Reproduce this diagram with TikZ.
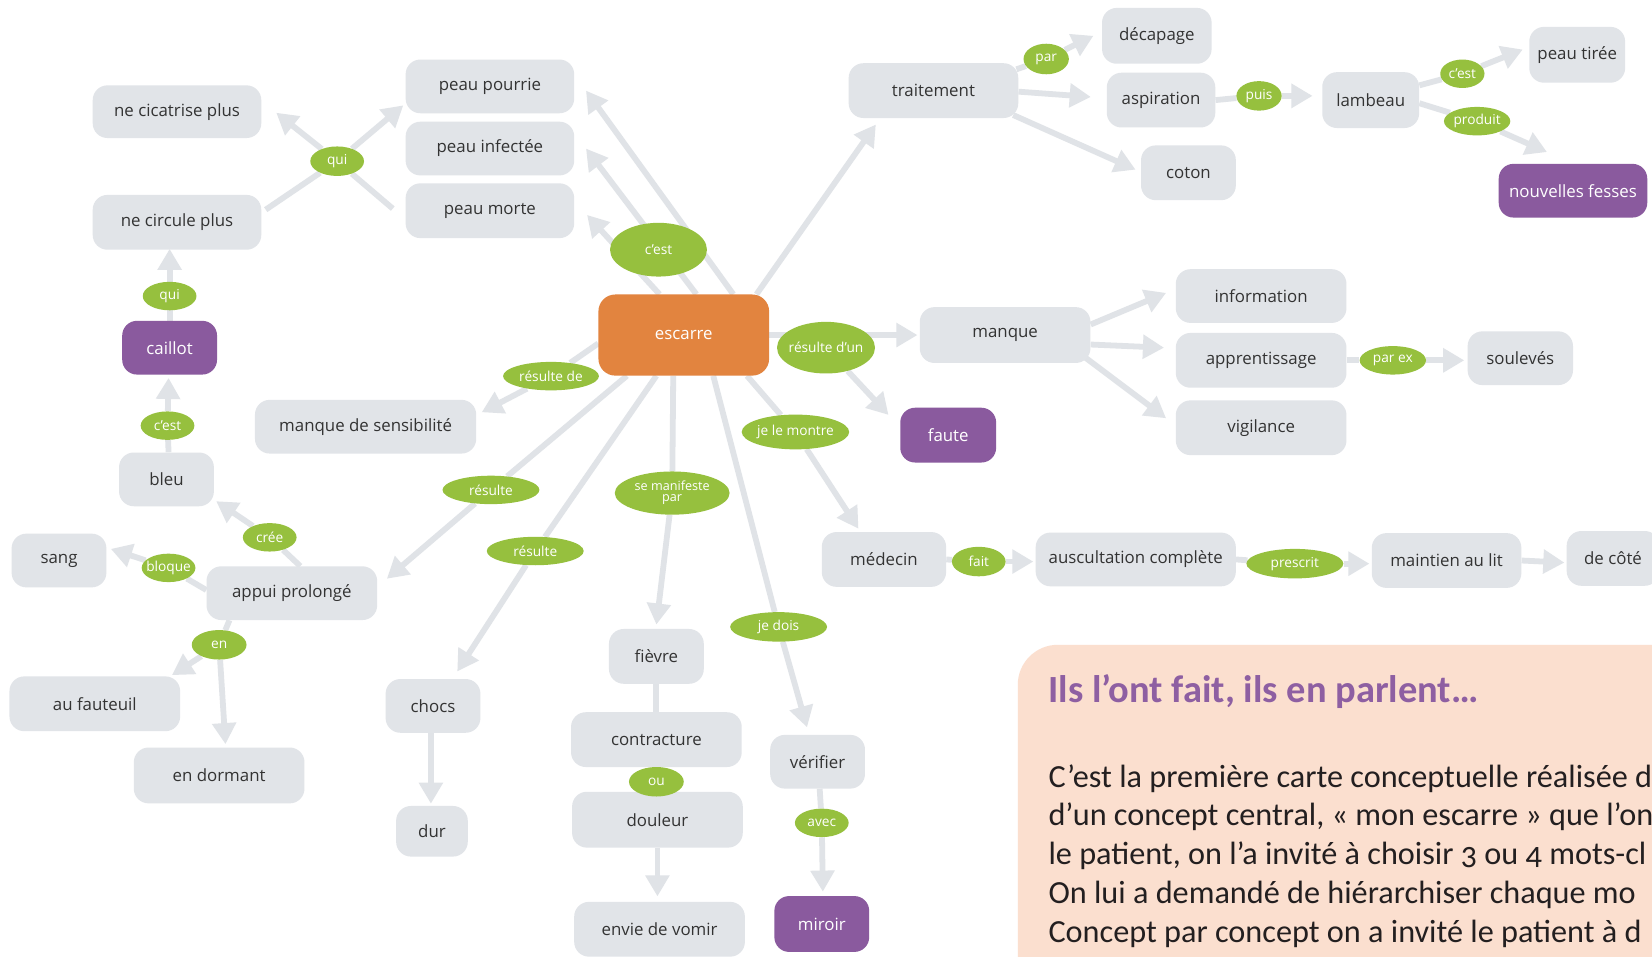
\documentclass[tikz,border=0pt]{standalone}
\usepackage{fontspec}
\setmainfont{Open Sans}
\newfontfamily\bodyfont[Numbers=OldStyle]{Carlito}
\usetikzlibrary{arrows.meta,calc,shapes.geometric,backgrounds}
\definecolor{boxgrey}{HTML}{E1E4E8}
\definecolor{linegrey}{HTML}{E0E3E7}
\definecolor{lblgreen}{HTML}{96C03E}
\definecolor{escor}{HTML}{E2843F}
\definecolor{purp}{HTML}{8A5A9E}
\definecolor{peach}{HTML}{FBDFCF}
\definecolor{headpurp}{HTML}{8E5FA2}
\definecolor{nodetxt}{HTML}{333333}
\definecolor{bodytxt}{HTML}{231F20}
\newcommand{\lbltext}[1]{\makebox[0pt]{#1}}
\tikzset{
  cbox/.style={rectangle, rounded corners=14pt, fill=boxgrey, text=nodetxt,
    font=\fontsize{16}{18}\selectfont, minimum height=52pt, inner sep=0pt},
  pbox/.style={cbox, fill=purp, text=white},
  lbl/.style={ellipse, fill=lblgreen, text=white, font=\fontsize{13}{14}\selectfont,
    inner sep=0pt, minimum height=27pt},
  conn/.style={draw=linegrey, line width=5.5pt},
  arr/.style={conn, -{Triangle[length=20pt,width=22pt]}},
  bodyline/.style={anchor=base west, inner sep=0pt, text=bodytxt,
    font=\bodyfont\fontsize{30.6}{36}\selectfont},
}
\begin{document}
\begin{tikzpicture}[x=1pt,y=-1pt]
\useasboundingbox (0,0) rectangle (1568,908);
% ---------- concept nodes ----------
\node[cbox, minimum width=160pt, minimum height=50pt] (ncic) at (168,106) {ne cicatrise plus};
\node[cbox, minimum width=160pt] (ncirc) at (168,211) {ne circule plus};
\node[cbox, minimum width=160pt, minimum height=51pt] (pp) at (465,82) {peau pourrie};
\node[cbox, minimum width=160pt, minimum height=51pt] (pi) at (465,141) {peau infectée};
\node[cbox, minimum width=160pt] (pm) at (465,200) {peau morte};
\node[pbox, minimum width=90pt, minimum height=51pt] (caillot) at (161,330) {caillot};
\node[cbox, minimum width=90pt, minimum height=51pt] (bleu) at (158,455) {bleu};
\node[cbox, minimum width=90pt, minimum height=51pt] (sang) at (56,532) {sang};
\node[cbox, minimum width=162pt, minimum height=51pt] (appui) at (277,563) {appui prolongé};
\node[cbox, minimum width=210pt, minimum height=51pt] (mds) at (347,405) {manque de sensibilité};
\node[cbox, minimum width=162pt] (fauteuil) at (90,668) {au fauteuil};
\node[cbox, minimum width=162pt, minimum height=53pt] (dormant) at (208,736) {en dormant};
\node[cbox, minimum width=90pt, minimum height=51pt] (chocs) at (411,670) {chocs};
\node[cbox, minimum width=68pt, minimum height=48pt] (dur) at (410,789) {dur};
\node[rectangle, rounded corners=16pt, fill=escor, text=white, font=\fontsize{16}{18}\selectfont,
  inner sep=0pt, minimum width=162pt, minimum height=77pt] (esc) at (649,318) {escarre};
\node[cbox, minimum width=161pt] (trait) at (886,86) {traitement};
\node[cbox, minimum width=104pt, minimum height=53pt] (decap) at (1098,34) {décapage};
\node[cbox, minimum width=103pt] (aspir) at (1102,95) {aspiration};
\node[cbox, minimum width=90pt] (coton) at (1128,164) {coton};
\node[cbox, minimum width=92pt, minimum height=53pt] (lambeau) at (1301,95) {lambeau};
\node[cbox, minimum width=91pt, minimum height=53pt] (ptiree) at (1497,52) {peau tirée};
\node[pbox, minimum width=141pt, minimum height=51pt] (nf) at (1493,181) {nouvelles fesses};
\node[cbox, minimum width=162pt, minimum height=53pt] (manque) at (954,318) {manque};
\node[cbox, minimum width=162pt, minimum height=51pt] (info) at (1197,281) {information};
\node[cbox, minimum width=162pt] (appr) at (1197,342) {apprentissage};
\node[cbox, minimum width=162pt] (vigil) at (1197,406) {vigilance};
\node[cbox, minimum width=100pt, minimum height=51pt] (soul) at (1443,340) {soulevés};
\node[pbox, minimum width=91pt] (faute) at (900,413) {faute};
\node[cbox, minimum width=118pt] (medecin) at (839,531) {médecin};
\node[cbox, minimum width=190pt, minimum height=51pt] (ausc) at (1078,531) {auscultation complète};
\node[cbox, minimum width=142pt] (maintien) at (1373,532) {maintien au lit};
\node[cbox, minimum width=88pt] (decote) at (1531,530) {de côté};
\node[cbox, minimum width=90pt] (fievre) at (623,623) {fièvre};
\node[cbox, minimum width=162pt] (contract) at (623,702) {contracture};
\node[cbox, minimum width=162pt, minimum height=53pt] (douleur) at (624,778) {douleur};
\node[cbox, minimum width=162pt] (envie) at (626,882) {envie de vomir};
\node[cbox, minimum width=90pt, minimum height=51pt] (verifier) at (776,723) {vérifier};
\node[pbox, minimum width=90pt, minimum height=53pt] (miroir) at (780,877) {miroir};
% ---------- link labels ----------
\node[lbl, minimum width=51pt, minimum height=28pt] (lqui1) at (320,153) {\lbltext{qui}};
\node[lbl, minimum width=51pt] (lqui2) at (161,281) {\lbltext{qui}};
\node[lbl, minimum width=51pt] (lcest2) at (159,404) {\lbltext{c’est}};
\node[lbl, minimum width=92pt, minimum height=51pt] (lcest1) at (625,237) {\lbltext{c’est}};
\node[lbl, minimum width=43pt, minimum height=29pt] (lpar) at (993,56) {\lbltext{par}};
\node[lbl, minimum width=43pt, minimum height=28pt] (lpuis) at (1195,91) {\lbltext{puis}};
\node[lbl, minimum width=42pt] (lcest3) at (1388,70) {\lbltext{c’est}};
\node[lbl, minimum width=63pt] (lproduit) at (1402,115) {\lbltext{produit}};
\node[lbl, minimum width=91pt] (lresde) at (523,357) {\lbltext{résulte de}};
\node[lbl, minimum width=93pt, minimum height=49pt] (lresdun) at (784,330) {\lbltext{résulte d’un}};
\node[lbl, minimum width=63pt] (lparex) at (1322,342) {\lbltext{par ex}};
\node[lbl, minimum width=102pt, minimum height=33pt] (lmontre) at (755,410) {\lbltext{je le montre}};
\node[lbl, minimum width=92pt] (lres1) at (466,465) {\lbltext{résulte}};
\node[lbl, minimum width=109pt, minimum height=41pt, font=\fontsize{12}{12.5}\selectfont] (lmanif) at (638,468)
  {\lbltext{\begin{tabular}{@{}c@{}}se manifeste\\[-2pt]par\end{tabular}}};
\node[lbl, minimum width=92pt] (lres2) at (508,523) {\lbltext{résulte}};
\node[lbl, minimum width=51pt] (lcree) at (256,510) {\lbltext{crée}};
\node[lbl, minimum width=51pt] (lbloque) at (160,539) {\lbltext{bloque}};
\node[lbl, minimum width=52pt, minimum height=28pt] (len) at (208,612) {\lbltext{en}};
\node[lbl, minimum width=51pt, minimum height=28pt] (lfait) at (929,533) {\lbltext{fait}};
\node[lbl, minimum width=92pt, minimum height=28pt] (lprescrit) at (1229,535) {\lbltext{prescrit}};
\node[lbl, minimum width=92pt, minimum height=28pt] (ldois) at (739,595) {\lbltext{je dois}};
\node[lbl, minimum width=52pt, minimum height=28pt] (lou) at (623,742) {\lbltext{ou}};
\node[lbl, minimum width=51pt] (lavec) at (780,781) {\lbltext{avec}};
% ---------- connectors ----------
\begin{scope}[on background layer]
\fill[white] (0,0) rectangle (1568,908);
% escarre -> peau ...
\draw[arr] ($(esc.north)+(-23,0)$) -- ($(pm.east)+(12,4)$);
\draw[arr] ($(esc.north)+(12,0)$) -- ($(pi.east)+(11,0)$);
\draw[arr] ($(esc.north)+(47,0)$) -- ($(pp.east)+(11,4)$);
% escarre -> traitement
\draw[arr] ($(esc.north)+(69,0)$) -- ($(trait.south west)+(26,6)$);
% escarre -> manque / faute
\draw[arr] (esc.east) -- ($(manque.west)+(-2,0)$);
\draw[arr] (lresdun) -- ($(faute.north west)+(-11,7)$);
% escarre -> medecin
\draw[conn] ($(esc.south)+(60,0)$) -- (lmontre);
\draw[arr] (lmontre) -- ($(medecin.north west)+(35,-3)$);
% escarre -> verifier
\draw[conn] ($(esc.south)+(28,0)$) -- (ldois);
\draw[arr] (ldois) -- ($(verifier.north)+(-10,-7)$);
% escarre -> fievre
\draw[conn] ($(esc.south)+(-10,0)$) -- (lmanif);
\draw[arr] (lmanif) -- ($(fievre.north)+(0,-4)$);
% escarre -> chocs
\draw[conn] ($(esc.south)+(-26,0)$) -- (lres2);
\draw[arr] (lres2) -- ($(chocs.north)+(23,-7)$);
% escarre -> appui
\draw[conn] ($(esc.south)+(-54,0)$) -- (lres1);
\draw[arr] (lres1) -- ($(appui.north east)+(9,12)$);
% escarre -> manque de sensibilite
\draw[conn] ($(esc.west)+(0,8)$) -- (lresde);
\draw[arr] (lresde) -- ($(mds.north east)+(5,12)$);
% traitement
\draw[conn] ($(trait.north east)+(-2,6)$) -- (lpar);
\draw[arr] (lpar) -- ($(decap.west)+(-8,0)$);
\draw[arr] ($(trait.east)+(0,1)$) -- ($(aspir.west)+(-15,-3)$);
\draw[arr] ($(trait.south east)+(-5,-3)$) -- ($(coton.west)+(-5,-3)$);
\draw[conn] (aspir.east) -- (lpuis);
\draw[arr] (lpuis) -- ($(lambeau.west)+(-9,-4)$);
\draw[conn] ($(lambeau.east)+(0,-14)$) -- (lcest3);
\draw[arr] (lcest3) -- ($(ptiree.west)+(-6,-5)$);
\draw[conn] ($(lambeau.east)+(0,3)$) -- (lproduit);
\draw[arr] (lproduit) -- ($(nf.north west)+(46,-11)$);
% manque
\draw[arr] ($(manque.east)+(0,-10)$) -- ($(info.west)+(-9,-3)$);
\draw[arr] ($(manque.east)+(0,9)$) -- ($(appr.west)+(-11,-12)$);
\draw[arr] ($(manque.south east)+(-6,-6)$) -- ($(vigil.west)+(-9,-9)$);
\draw[conn] (appr.east) -- (lparex);
\draw[arr] (lparex) -- ($(soul.west)+(-3,2)$);
% medecin chain
\draw[conn] (medecin.east) -- (lfait);
\draw[arr] (lfait) -- ($(ausc.west)+(-2,2)$);
\draw[conn] (ausc.east) -- (lprescrit);
\draw[arr] (lprescrit) -- ($(maintien.west)+(-2,3)$);
\draw[arr] (maintien.east) -- ($(decote.west)+(-2,4)$);
% fievre chain
\draw[conn] (fievre.south) -- (contract.north);
\draw[conn] (contract.south) -- (lou);
\draw[conn] (lou) -- (douleur.north);
\draw[arr] (douleur.south) -- ($(envie.north)+(-2,-5)$);
% verifier
\draw[conn] ($(verifier.south)+(2,0)$) -- (lavec);
\draw[arr] (lavec) -- ($(miroir.north)+(1,-4)$);
% chocs
\draw[arr] ($(chocs.south)+(-2,0)$) -- ($(dur.north)+(-1,-2)$);
% appui
\draw[conn] ($(appui.north)+(8,0)$) -- (lcree);
\draw[arr] (lcree) -- ($(bleu.south east)+(2,-5)$);
\draw[conn] ($(appui.west)+(0,-3)$) -- (lbloque);
\draw[arr] (lbloque) -- ($(sang.east)+(4,-11)$);
\draw[conn] ($(appui.south west)+(22,0)$) -- (len);
\draw[arr] (len) -- ($(fauteuil.north east)+(-8,-1)$);
\draw[arr] (len) -- ($(dormant.north)+(6,-3)$);
% left column
\draw[conn] ($(bleu.north)+(2,0)$) -- (lcest2);
\draw[arr] (lcest2) -- ($(caillot.south)+(-1,3)$);
\draw[conn] (caillot.north) -- (lqui2);
\draw[arr] (lqui2) -- ($(ncirc.south)+(-7,-1)$);
\draw[conn] ($(ncirc.east)+(4,-12)$) -- (lqui1);
\draw[conn] ($(pm.west)+(-12,-2)$) -- (lqui1);
\draw[arr] (lqui1) -- ($(ncic.east)+(14,1)$);
\draw[arr] (lqui1) -- ($(pp.west)+(-2,18)$);
\end{scope}
% ---------- text panel ----------
\fill[peach] (966,915) -- (966,650) arc[start angle=180, end angle=270, radius=38] -- (1575,612) -- (1575,915) -- cycle;
\node[anchor=base west, inner sep=0pt, text=headpurp, font=\bodyfont\bfseries\fontsize{36.5}{40}\selectfont] (head) at (995,667) {Ils l’ont fait, ils en parlent…};
\node[bodyline] (b1) at (995,747) {C’est la première carte conceptuelle réalisée d};
\node[bodyline] (b2) at (995,783.8) {d’un concept central, « mon escarre » que l’on};
\node[bodyline] (b3) at (995,820.6) {le patient, on l’a invité à choisir 3 ou 4 mots-cl};
\node[bodyline] (b4) at (995,857.4) {On lui a demandé de hiérarchiser chaque mo};
\node[bodyline] (b5) at (995,894.2) {Concept par concept on a invité le patient à d};
\end{tikzpicture}
\end{document}
